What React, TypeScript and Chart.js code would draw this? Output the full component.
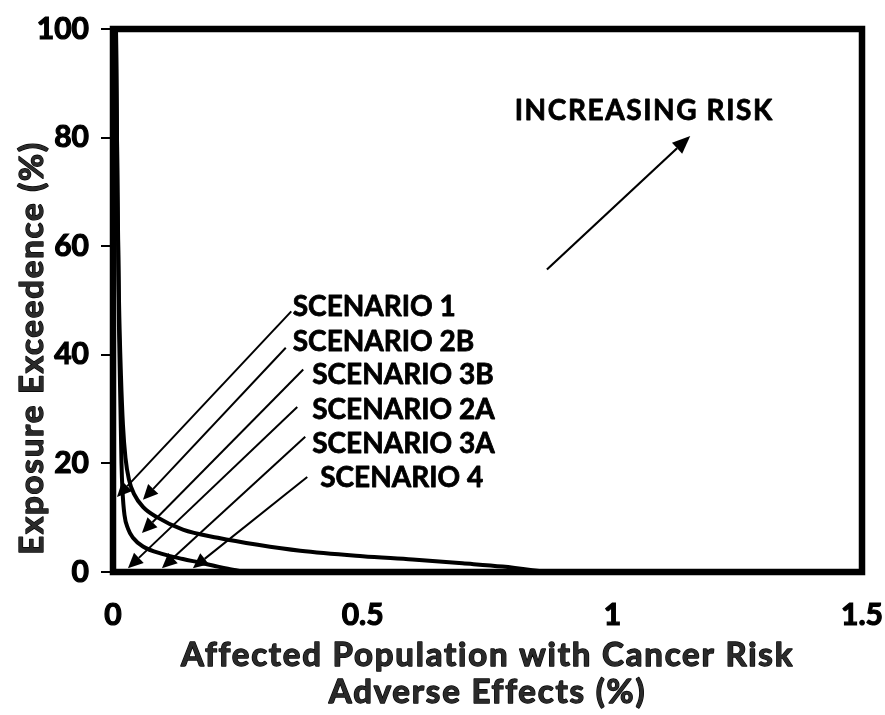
import React, { useEffect, useRef } from "react";
import { Chart, registerables } from "chart.js";

Chart.register(...registerables);

// Curve data (x: affected population %, y: exposure exceedence %)
const outerX = [0.006, 0.009, 0.012, 0.016, 0.02, 0.025, 0.032, 0.042, 0.06, 0.088, 0.14, 0.21, 0.29, 0.375, 0.5, 0.6, 0.7, 0.78, 0.87];
const outerY = [100, 70, 50, 36, 27, 21, 17, 14.4, 12, 10.1, 7.8, 6.3, 5.0, 3.9, 2.9, 2.3, 1.6, 1.0, 0];
const innerX = [0.006, 0.009, 0.012, 0.015, 0.017, 0.019, 0.023, 0.03, 0.04, 0.06, 0.1, 0.14, 0.17, 0.2, 0.23, 0.265];
const innerY = [100, 70, 45, 30, 20, 15, 10.5, 8.0, 6.3, 4.7, 3.3, 2.4, 1.8, 1.2, 0.6, 0];

// Axis ticks
const xTicks = [0, 0.5, 1, 1.5];
const yTicks = [0, 20, 40, 60, 80, 100];

// Annotations (data coordinates)
const scenarioLabels = ["SCENARIO 1", "SCENARIO 2B", "SCENARIO 3B", "SCENARIO 2A", "SCENARIO 3A", "SCENARIO 4"];
const labelX = [0.36, 0.36, 0.399, 0.399, 0.399, 0.415];
const labelY = [48.9, 42.4, 36.2, 29.9, 23.6, 17.3];
const arrowStartX = [0.357, 0.346, 0.381, 0.369, 0.385, 0.389];
const arrowStartY = [48.0, 41.3, 37.3, 30.4, 24.9, 17.5];
const arrowEndX = [0.008, 0.06, 0.058, 0.03, 0.098, 0.16];
const arrowEndY = [13.8, 13.3, 7.2, 0.7, 0.7, 0.7];

const riskLabel = "INCREASING RISK";
const riskLabelPos = [1.064, 84.9];
const riskArrowStart = [0.869, 55.7];
const riskArrowEnd = [1.156, 80.3];

const xTitleLines = ["Affected Population with Cancer Risk", "Adverse Effects (%)"];
const yTitle = "Exposure Exceedence (%)";

const FONT = "Lato, 'Open Sans', sans-serif";

function drawArrow(ctx: CanvasRenderingContext2D, x1: number, y1: number, x2: number, y2: number, lw: number, headLen: number, headW: number) {
  const ang = Math.atan2(y2 - y1, x2 - x1);
  const bx = x2 - headLen * Math.cos(ang);
  const by = y2 - headLen * Math.sin(ang);
  ctx.beginPath();
  ctx.lineWidth = lw;
  ctx.strokeStyle = "#000";
  ctx.moveTo(x1, y1);
  ctx.lineTo(bx, by);
  ctx.stroke();
  ctx.beginPath();
  ctx.fillStyle = "#000";
  ctx.moveTo(x2, y2);
  ctx.lineTo(bx + headW * Math.sin(ang), by - headW * Math.cos(ang));
  ctx.lineTo(bx - headW * Math.sin(ang), by + headW * Math.cos(ang));
  ctx.closePath();
  ctx.fill();
}

function strokedText(ctx: CanvasRenderingContext2D, text: string, x: number, y: number, sw: number) {
  ctx.lineWidth = sw;
  ctx.strokeStyle = "#000";
  ctx.lineJoin = "round";
  ctx.strokeText(text, x, y);
  ctx.fillText(text, x, y);
}

const decorPlugin = {
  id: "decor",
  afterDatasetsDraw(chart: any) {
    const ctx: any = chart.ctx;
    const xs = chart.scales.x;
    const ys = chart.scales.y;
    const a = chart.chartArea;
    ctx.save();
    // frame
    ctx.lineWidth = 6.5;
    ctx.strokeStyle = "#000";
    ctx.lineJoin = "miter";
    ctx.strokeRect(a.left, a.top, a.right - a.left, a.bottom - a.top);

    // scenario arrows
    for (let i = 0; i < scenarioLabels.length; i++) {
      drawArrow(
        ctx,
        xs.getPixelForValue(arrowStartX[i]),
        ys.getPixelForValue(arrowStartY[i]),
        xs.getPixelForValue(arrowEndX[i]),
        ys.getPixelForValue(arrowEndY[i]),
        2,
        15,
        7
      );
    }
    // scenario labels
    ctx.fillStyle = "#000";
    ctx.font = `bold 28px ${FONT}`;
    ctx.textAlign = "left";
    ctx.textBaseline = "middle";
    for (let i = 0; i < scenarioLabels.length; i++) {
      strokedText(ctx, scenarioLabels[i], xs.getPixelForValue(labelX[i]), ys.getPixelForValue(labelY[i]), 0.8);
    }
    // increasing risk
    drawArrow(
      ctx,
      xs.getPixelForValue(riskArrowStart[0]),
      ys.getPixelForValue(riskArrowStart[1]),
      xs.getPixelForValue(riskArrowEnd[0]),
      ys.getPixelForValue(riskArrowEnd[1]),
      2.2,
      18,
      7.5
    );
    ctx.fillStyle = "#000";
    ctx.textAlign = "center";
    ctx.letterSpacing = "1.6px";
    strokedText(ctx, riskLabel, xs.getPixelForValue(riskLabelPos[0]), ys.getPixelForValue(riskLabelPos[1]), 0.8);

    // axis titles
    ctx.font = `bold 33px ${FONT}`;
    ctx.letterSpacing = "1.8px";
    ctx.fillStyle = "#2a2a2a";
    const cx = (a.left + a.right) / 2;
    strokedText(ctx, xTitleLines[0], cx, 655, 1.3);
    strokedText(ctx, xTitleLines[1], cx, 692, 1.3);
    ctx.translate(32, 348);
    ctx.rotate(-Math.PI / 2);
    strokedText(ctx, yTitle, 0, 0, 1.3);
    ctx.restore();
  },
};

export default function App() {
  const ref = useRef<HTMLCanvasElement | null>(null);
  useEffect(() => {
    if (!ref.current) return;
    const chart = new Chart(ref.current, {
      type: "scatter",
      data: {
        datasets: [
          {
            label: "outer",
            data: outerX.map((x, i) => ({ x, y: outerY[i] })),
            showLine: true,
            borderColor: "#000",
            borderWidth: 4,
            pointRadius: 0,
            cubicInterpolationMode: "monotone",
          },
          {
            label: "inner",
            data: innerX.map((x, i) => ({ x, y: innerY[i] })),
            showLine: true,
            borderColor: "#000",
            borderWidth: 4,
            pointRadius: 0,
            cubicInterpolationMode: "monotone",
          },
        ],
      },
      options: {
        animation: false,
        responsive: false,
        maintainAspectRatio: false,
        layout: { autoPadding: false, padding: { top: 29, right: 23, left: 0, bottom: 0 } },
        plugins: { legend: { display: false }, tooltip: { enabled: false } },
        scales: {
          x: {
            type: "linear",
            min: 0,
            max: 1.5,
            afterFit: (s: any) => {
              s.height = 143;
              s.paddingLeft = 0;
              s.paddingRight = 0;
            },
            afterBuildTicks: (s: any) => {
              s.ticks = xTicks.map((v) => ({ value: v }));
            },
            grid: { display: false, drawTicks: false },
            border: { display: false },
            ticks: {
              color: "#000",
              font: { family: FONT, size: 30, weight: "bold" },
              textStrokeColor: "#000",
              textStrokeWidth: 1.2,
              padding: 25,
              maxRotation: 0,
              callback: (v: any) => String(Number(v)),
            },
          },
          y: {
            type: "linear",
            min: 0,
            max: 100,
            afterFit: (s: any) => {
              s.width = 113;
              s.paddingTop = 0;
              s.paddingBottom = 0;
            },
            afterBuildTicks: (s: any) => {
              s.ticks = yTicks.map((v) => ({ value: v }));
            },
            grid: { drawOnChartArea: false, drawTicks: true, tickLength: 12, color: "#000", lineWidth: 2 },
            border: { display: false },
            ticks: {
              color: "#000",
              font: { family: FONT, size: 30, weight: "bold" },
              textStrokeColor: "#000",
              textStrokeWidth: 1.2,
              padding: 12,
            },
          },
        },
      },
      plugins: [decorPlugin],
    } as any);
    return () => chart.destroy();
  }, []);
  return (
    <canvas
      ref={ref}
      width={885}
      height={715}
      style={{ position: "fixed", left: 0, top: 0, width: 885, height: 715, background: "#fff" }}
    />
  );
}
